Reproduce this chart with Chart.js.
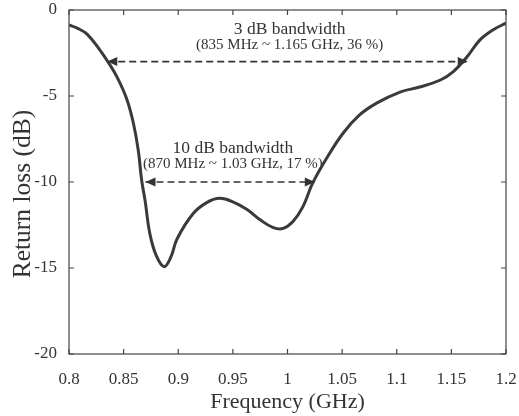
<!DOCTYPE html>
<html lang="en">
<head>
  <meta charset="UTF-8">
  <title>Return loss</title>
  <style>
    body{ margin:0; background:#fff; }
    .plot{ width:519px; height:416px; }
  </style>
</head>
<body>
  <div class="plot">
    <canvas id="rlChart" width="519" height="416"></canvas>
  </div>

  <script src="https://cdn.jsdelivr.net/npm/chart.js"></script>
  <script type="text/javascript">
    // measured curve (GHz, dB)
    const freq = [0.800, 0.808, 0.8165, 0.828, 0.835, 0.844, 0.853, 0.859, 0.8635, 0.8665, 0.8697, 0.874, 0.880, 0.887, 0.893, 0.899,
                  0.9135, 0.926, 0.938, 0.950, 0.963, 0.975, 0.987, 0.996, 1.005, 1.014, 1.023, 1.036, 1.051,
                  1.066, 1.082, 1.103, 1.121, 1.140, 1.1515, 1.164, 1.176, 1.188, 1.200];
    const returnLoss = [-0.87, -1.07, -1.4, -2.3, -2.95, -3.9, -5.2, -6.6, -8.2, -9.9, -11.1, -13.0, -14.3, -14.92, -14.4, -13.3,
                  -11.85, -11.2, -10.95, -11.15, -11.6, -12.2, -12.65, -12.7, -12.3, -11.45, -10.07, -8.6, -7.15,
                  -6.1, -5.4, -4.77, -4.48, -4.07, -3.6, -2.75, -1.75, -1.16, -0.76];

    // bandwidth arrows
    const bw3Freq = [0.835, 1.165];
    const bw3Level = -3;
    const bw10Freq = [0.870, 1.025];
    const bw10Level = -10;
    const bw3Text = ['3 dB bandwidth', '(835 MHz ~ 1.165 GHz, 36 %)'];
    const bw10Text = ['10 dB bandwidth', '(870 MHz ~ 1.03 GHz, 17 %)'];

    const xTicks = [0.8, 0.85, 0.9, 0.95, 1, 1.05, 1.1, 1.15, 1.2];
    const yTicks = [0, -5, -10, -15, -20];
    const yTitle = 'Return loss (dB)';

    const ink = '#333';
    const serif = '"Liberation Serif", "DejaVu Serif", serif';

    const curve = freq.map((f, i) => ({x: f, y: returnLoss[i]}));
    const arrow3 = bw3Freq.map(f => ({x: f, y: bw3Level}));
    const arrow10 = bw10Freq.map(f => ({x: f, y: bw10Level}));

    // frame, inward ticks, arrow heads and annotation text
    const decorations = {
      id: 'decorations',
      afterDatasetsDraw(chart) {
        const ctx = chart.ctx;
        const a = chart.chartArea;
        const xs = chart.scales.x, ys = chart.scales.y;
        ctx.save();
        ctx.strokeStyle = '#444';
        ctx.lineWidth = 1.2;
        ctx.strokeRect(a.left, a.top, a.right - a.left, a.bottom - a.top);
        ctx.beginPath();
        xTicks.forEach(v => {
          const px = xs.getPixelForValue(v);
          ctx.moveTo(px, a.bottom); ctx.lineTo(px, a.bottom - 5);
          ctx.moveTo(px, a.top); ctx.lineTo(px, a.top + 5);
        });
        yTicks.forEach(v => {
          const py = ys.getPixelForValue(v);
          ctx.moveTo(a.left, py); ctx.lineTo(a.left + 5, py);
          ctx.moveTo(a.right, py); ctx.lineTo(a.right - 5, py);
        });
        ctx.stroke();

        // arrow heads
        ctx.fillStyle = ink;
        const head = (fx, lvl, dir) => {
          const px = xs.getPixelForValue(fx), py = ys.getPixelForValue(lvl);
          ctx.beginPath();
          ctx.moveTo(px, py);
          ctx.lineTo(px - dir * 10, py - 4.5);
          ctx.lineTo(px - dir * 10, py + 4.5);
          ctx.closePath();
          ctx.fill();
        };
        head(bw3Freq[0], bw3Level, -1); head(bw3Freq[1], bw3Level, 1);
        head(bw10Freq[0], bw10Level, -1); head(bw10Freq[1], bw10Level, 1);

        // labels
        ctx.textAlign = 'center';
        ctx.textBaseline = 'alphabetic';
        const label = (lines, fx, yTop) => {
          const px = xs.getPixelForValue(fx);
          const py = ys.getPixelForValue(yTop);
          ctx.font = '17.5px ' + serif;
          ctx.fillText(lines[0], px, py);
          ctx.font = '15px ' + serif;
          ctx.fillText(lines[1], px, py + 15);
        };
        label(bw3Text, 1.002, -1.4);
        label(bw10Text, 0.95, -8.3);

        // y axis title
        ctx.translate(23, 194);
        ctx.rotate(-Math.PI / 2);
        ctx.textBaseline = 'middle';
        ctx.font = '25.5px ' + serif;
        ctx.fillText(yTitle, 0, 0);
        ctx.restore();
      }
    };

    new Chart(document.getElementById('rlChart'), {
      type: 'line',
      data: {
        datasets: [
          {
            data: curve,
            borderColor: '#3a3a3a',
            borderWidth: 3,
            pointRadius: 0,
            tension: 0.4,
            fill: false
          },
          {
            data: arrow3,
            borderColor: ink,
            borderWidth: 1.6,
            borderDash: [7, 4],
            pointRadius: 0,
            fill: false
          },
          {
            data: arrow10,
            borderColor: ink,
            borderWidth: 1.6,
            borderDash: [7, 4],
            pointRadius: 0,
            fill: false
          }
        ]
      },
      options: {
        responsive: false,
        animation: false,
        devicePixelRatio: 1,
        layout: { padding: { top: 10, right: 13, left: 0, bottom: 0 } },
        plugins: { legend: { display: false }, tooltip: { enabled: false } },
        scales: {
          x: {
            type: 'linear',
            min: 0.8, max: 1.2,
            grid: { display: false },
            border: { display: false },
            afterBuildTicks: s => { s.ticks = xTicks.map(v => ({value: v})); },
            afterFit: s => { s.height = 62; s.paddingLeft = 0; s.paddingRight = 0; },
            ticks: {
              padding: 7,
              maxRotation: 0,
              color: ink,
              font: { family: serif, size: 17 },
              callback: v => String(Number(v.toFixed(2)))
            },
            title: {
              display: true,
              text: 'Frequency (GHz)',
              color: ink,
              font: { family: serif, size: 22 },
              padding: { top: 0, bottom: 1 }
            }
          },
          y: {
            min: -20, max: 0,
            grid: { display: false },
            border: { display: false },
            afterBuildTicks: s => { s.ticks = yTicks.map(v => ({value: v})); },
            afterFit: s => { s.width = 69; s.paddingTop = 0; s.paddingBottom = 0; },
            ticks: {
              padding: 4,
              color: ink,
              font: { family: serif, size: 17 }
            }
          }
        }
      },
      plugins: [decorations]
    });
  </script>
</body>
</html>
